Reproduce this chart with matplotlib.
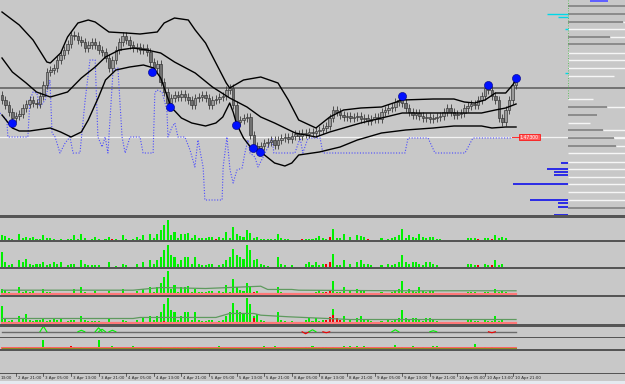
import matplotlib
matplotlib.use("Agg")
import matplotlib.pyplot as plt
import numpy as np
from matplotlib.patches import Rectangle

#--------------------------------
# DATA (H1 bars, EURUSD-like price)
#--------------------------------
first_open = 1.4772
closes = [1.4767, 1.4762, 1.4755, 1.4749, 1.4751, 1.4753, 1.4759, 1.4763, 1.4767, 1.4764,
          1.4763, 1.4771, 1.4782, 1.4795, 1.4797, 1.4799, 1.4807, 1.4812, 1.4817, 1.4823,
          1.4832, 1.4831, 1.4827, 1.4825, 1.4819, 1.4822, 1.4825, 1.4822, 1.4817, 1.4815,
          1.4809, 1.4799, 1.4807, 1.4817, 1.4825, 1.4831, 1.4827, 1.4822, 1.4819, 1.4820,
          1.4817, 1.4819, 1.4815, 1.4805, 1.4799, 1.4803, 1.4785, 1.4775, 1.4764, 1.4769,
          1.4772, 1.4770, 1.4773, 1.4770, 1.4767, 1.4762, 1.4769, 1.4770, 1.4772, 1.4769,
          1.4762, 1.4767, 1.4768, 1.4770, 1.4771, 1.4777, 1.4779, 1.4762, 1.4745, 1.4747,
          1.4749, 1.4750, 1.4732, 1.4721, 1.4719, 1.4721, 1.4724, 1.4725, 1.4727, 1.4722,
          1.4727, 1.4729, 1.4730, 1.4728, 1.4731, 1.4733, 1.4731, 1.4734, 1.4733, 1.4735,
          1.4734, 1.4736, 1.4737, 1.4739, 1.4741, 1.4749, 1.4757, 1.4755, 1.4752, 1.4750,
          1.4751, 1.4749, 1.4750, 1.4751, 1.4748, 1.4749, 1.4746, 1.4748, 1.4750, 1.4748,
          1.4755, 1.4757, 1.4759, 1.4760, 1.4765, 1.4767, 1.4764, 1.4759, 1.4755, 1.4752,
          1.4754, 1.4751, 1.4749, 1.4750, 1.4748, 1.4749, 1.4750, 1.4751, 1.4755, 1.4759,
          1.4755, 1.4752, 1.4753, 1.4754, 1.4759, 1.4761, 1.4763, 1.4762, 1.4767, 1.4771,
          1.4779, 1.4777, 1.4771, 1.4767, 1.4749, 1.4745, 1.4757, 1.4767, 1.4782, 1.4785]

# bollinger bands (bar index, price)
upper_bars = [0, 5, 9, 13, 14, 17, 19, 22, 25, 27, 31, 36, 40, 45, 47, 50, 54, 56, 59, 62,
              65, 66, 70, 75, 80, 83, 86, 91, 95, 99, 104, 110, 116, 125, 131, 134, 137,
              140, 143, 146, 148, 149]
upper_vals = [1.4855, 1.4842, 1.4827, 1.4805, 1.4804, 1.4814, 1.4830, 1.4844, 1.4847, 1.4845,
              1.4835, 1.4834, 1.4833, 1.4835, 1.4844, 1.4849, 1.4847, 1.4837, 1.4824, 1.4804,
              1.4784, 1.4779, 1.4787, 1.4790, 1.4784, 1.4767, 1.4747, 1.4739, 1.4750, 1.4757,
              1.4759, 1.4760, 1.4767, 1.4768, 1.4768, 1.4765, 1.4764, 1.4767, 1.4774, 1.4774,
              1.4782, 1.4787]
mid_bars = [0, 3, 7, 10, 14, 19, 23, 27, 30, 34, 38, 42, 46, 50, 56, 61, 66, 71, 75, 79,
            85, 91, 95, 104, 110, 116, 123, 129, 139, 143, 146, 149]
mid_vals = [1.4809, 1.4795, 1.4784, 1.4775, 1.4770, 1.4775, 1.4789, 1.4800, 1.4810, 1.4817,
            1.4819, 1.4817, 1.4814, 1.4805, 1.4794, 1.4780, 1.4769, 1.4760, 1.4750, 1.4744,
            1.4734, 1.4730, 1.4735, 1.4744, 1.4749, 1.4754, 1.4754, 1.4754, 1.4754, 1.4757,
            1.4759, 1.4763]
lower_bars = [0, 3, 5, 8, 14, 17, 20, 23, 25, 28, 30, 33, 37, 41, 44, 46, 49, 52, 55, 59,
              62, 64, 66, 67, 68, 70, 72, 75, 79, 82, 84, 86, 92, 98, 103, 110, 117, 125,
              131, 139, 142, 146, 149]
lower_vals = [1.4752, 1.4739, 1.4736, 1.4736, 1.4739, 1.4735, 1.4730, 1.4735, 1.4747, 1.4770,
              1.4787, 1.4797, 1.4800, 1.4802, 1.4799, 1.4789, 1.4760, 1.4749, 1.4744, 1.4741,
              1.4744, 1.4750, 1.4764, 1.4755, 1.4743, 1.4729, 1.4720, 1.4715, 1.4704, 1.4701,
              1.4704, 1.4712, 1.4715, 1.4720, 1.4727, 1.4734, 1.4737, 1.4739, 1.4741, 1.4741,
              1.4739, 1.4740, 1.4740]

# dotted blue oscillator drawn in the price window
osc_x = [-0.6, 1.4, 1.7, 7.5, 8.1, 9.0, 10.1, 11.0, 12.5, 13.9, 14.5, 15.4, 16.8, 18.3, 19.7,
         20.6, 22.6, 24.1, 25.5, 27.0, 27.8, 29.0, 29.9, 30.7, 32.2, 33.6, 34.8, 35.7, 37.1,
         40.0, 40.9, 43.8, 44.3, 44.9, 46.4, 47.8, 48.1, 49.3, 50.1, 51.0, 53.0, 54.5, 55.9,
         56.8, 58.3, 58.8, 63.8, 64.1, 65.2, 66.1, 67.0, 68.1, 69.6, 70.4, 71.3, 71.9, 73.3,
         74.2, 75.7, 77.1, 78.3, 78.8, 79.7, 84.9, 86.4, 87.2, 88.7, 92.2, 93.0, 116.8, 117.7,
         123.5, 125.5, 134.2, 136.5, 147.8]
osc_y = [1.4754, 1.4747, 1.4730, 1.4730, 1.4767, 1.4775, 1.4774, 1.4760, 1.4767, 1.4787,
         1.4734, 1.4730, 1.4714, 1.4724, 1.4730, 1.4714, 1.4714, 1.4767, 1.4807, 1.4807,
         1.4730, 1.4720, 1.4730, 1.4714, 1.4797, 1.4799, 1.4730, 1.4714, 1.4730, 1.4730,
         1.4714, 1.4714, 1.4774, 1.4777, 1.4775, 1.4757, 1.4730, 1.4740, 1.4744, 1.4730,
         1.4730, 1.4717, 1.4700, 1.4727, 1.4700, 1.4667, 1.4667, 1.4700, 1.4730, 1.4697,
         1.4684, 1.4697, 1.4699, 1.4714, 1.4727, 1.4714, 1.4710, 1.4700, 1.4710, 1.4720,
         1.4729, 1.4714, 1.4714, 1.4714, 1.4729, 1.4714, 1.4729, 1.4729, 1.4714, 1.4714,
         1.4729, 1.4729, 1.4714, 1.4714, 1.4729, 1.4729]

signal_bars = [3, 43.5, 48.7, 67.8, 72.8, 74.8, 115.9, 140.9, 149]
signal_vals = [1.4744, 1.4795, 1.4760, 1.4742, 1.4719, 1.4715, 1.4771, 1.4782, 1.4789]

level_gray = 1.4779
level_white = 1.4730

# right side profile: price level, gray share, white end (share of width)
prof_y = [1.4861, 1.4853, 1.4845, 1.4838, 1.4830, 1.4823, 1.4814, 1.4807, 1.4799, 1.4791,
          1.4768, 1.4760, 1.4752, 1.4744, 1.4737, 1.4729, 1.4721, 1.4714, 1.4705, 1.4698,
          1.4690, 1.4683, 1.4675, 1.4667, 1.4659]
prof_gray = [1.0, 1.0, 0.97, 0.0, 0.74, 1.0, 0.0, 0.0, 0.0, 0.0, 0.0, 0.68, 0.5, 0.0, 0.62,
             0.8, 0.85, 0.0, 0.0, 0.0, 0.0, 0.0, 0.0, 0.0, 1.0]
prof_white = [1.0, 1.0, 1.0, 1.0, 1.0, 1.0, 1.0, 1.0, 1.0, 0.8, 0.44, 1.0, 0.5, 0.38, 1.0,
              1.0, 1.0, 1.0, 1.0, 1.0, 1.0, 1.0, 1.0, 1.0, 1.0]
blue_y = [1.4704, 1.4698, 1.4695, 1.4692, 1.4683, 1.4667, 1.4664, 1.4660, 1.4652]
blue_len = [7, 21, 14, 14, 55, 38, 10, 10, 14]
cyan_y = [1.4853, 1.4850, 1.4838, 1.4794]
cyan_len = [21, 10, 3, 3]

# volume panels
vol1 = [5, 4, 2, 1, 0, 6, 2, 3, 2, 3, 1, 1, 5, 2, 2, 1, 0, 1, 0, 1,
        1, 5, 1, 6, 2, 0, 1, 3, 1, 0, 1, 3, 1, 1, 0, 5, 1, 0, 1, 3,
        1, 5, 0, 6, 2, 6, 10, 15, 20, 5, 8, 2, 6, 6, 7, 2, 5, 2, 2, 2,
        3, 3, 1, 3, 2, 8, 2, 13, 6, 4, 3, 10, 7, 2, 3, 1, 1, 1, 1, 1,
        6, 2, 1, 1, 0, 0, 0, 1, 1, 1, 1, 2, 4, 2, 1, 3, 11, 2, 2, 6,
        0, 3, 0, 5, 4, 3, 1, 0, 0, 0, 2, 0, 1, 2, 3, 5, 11, 2, 5, 3,
        2, 6, 3, 2, 3, 3, 1, 1, 0, 0, 0, 0, 0, 0, 0, 2, 2, 2, 1, 0,
        2, 2, 1, 5, 2, 3, 2, 0, 0, 0]
vol2 = [15, 5, 2, 3, 0, 7, 5, 8, 3, 2, 3, 3, 5, 2, 3, 5, 3, 5, 0, 2,
        3, 3, 0, 7, 3, 2, 2, 2, 2, 0, 0, 5, 0, 1, 0, 3, 2, 0, 0, 3,
        0, 5, 0, 7, 3, 7, 10, 17, 22, 12, 10, 3, 7, 10, 10, 3, 10, 3, 2, 2,
        3, 3, 0, 2, 3, 7, 10, 18, 12, 10, 8, 22, 17, 7, 8, 3, 2, 1, 0, 0,
        10, 3, 2, 0, 2, 0, 0, 0, 3, 5, 2, 5, 2, 3, 3, 5, 13, 2, 2, 7,
        0, 3, 0, 5, 7, 3, 3, 2, 0, 0, 2, 0, 3, 2, 3, 5, 12, 5, 3, 5,
        5, 3, 2, 5, 5, 3, 2, 0, 0, 0, 0, 0, 0, 0, 0, 3, 3, 2, 2, 0,
        3, 2, 2, 7, 2, 3, 0, 0, 0, 0]
red1 = [32, 62, 87, 95, 106, 138, 142]
red2 = [94, 95, 138, 142]

p3_red_bars = [32, 39, 68, 73, 80, 88, 94, 95, 98, 106, 138, 142]
p3_red_vals = [1, 1, 1.5, 2.5, 1, 1, 2, 3, 1.5, 1, 1, 1]
p3_ma_bars = [0, 38, 46, 59, 75, 77, 84, 86, 115, 149]
p3_ma_vals = [3.6, 3.6, 5.8, 5.0, 6.9, 4.2, 4.2, 3.6, 3.1, 3.1]

p4_red_bars = [18, 19, 32, 35, 43, 47, 52, 61, 69, 73, 81, 88, 94, 95, 96, 97, 98, 101, 106, 140, 142]
p4_red_vals = [1.5, 1.5, 1.5, 1.5, 1.5, 2.5, 1.5, 1.5, 1.5, 4.4, 1.5, 1.5, 3, 5.8, 7.3, 4.4, 3,
               1.5, 1.5, 1.5, 1.5]
p4_ma_bars = [0, 38, 40, 62, 66, 73, 75, 83, 101, 149]
p4_ma_vals = [4.4, 4.4, 5.3, 5.3, 8.8, 8.8, 7.3, 5.9, 3.5, 3.5]

p5_bars = [12, 23, 28, 29, 32, 88, 90, 94, 114, 125, 142]
p5_vals = [5.5, 1.5, 4, 2.5, 1.5, -2, 2, -1, 2, 1, -1]

p6_bars = [0, 3, 5, 7, 9, 10, 12, 14, 16, 19, 20, 21, 23, 27, 28, 30, 32, 33, 38, 46,
           50, 51, 52, 54, 57, 63, 69, 71, 76, 79, 80, 83, 84, 88, 89, 90, 91, 92, 93, 94,
           96, 99, 101, 103, 105, 106, 110, 112, 114, 115, 116, 119, 122, 125, 126, 128,
           137, 139, 140, 142, 143, 145]
p6_vals = [1, 1, 2, 2, 1, 1, 9, 2, 1, 1, 3, 2, 2, 1, 9, 1, 3, 1, 3, 2,
           2, 2, 1, 2, 2, 3, 1, 1, 3, 3, 1, 2, 1, 2, 2, 3, 2, 2, 2, 2,
           2, 3, 3, 3, 3, 2, 1, 1, 4, 2, 2, 3, 2, 3, 3, 1, 5, 1, 2, 2, 1, 1]
p6_red = [19, 20, 21, 88, 93, 142]

# first label is cut by the window edge, only its time part shows
time_labels = ["13:00", "2 Apr 21:00", "3 Apr 05:00", "3 Apr 13:00", "3 Apr 21:00",
               "4 Apr 05:00", "4 Apr 13:00", "4 Apr 21:00", "5 Apr 05:00", "5 Apr 13:00",
               "5 Apr 21:00", "8 Apr 05:00", "8 Apr 13:00", "8 Apr 21:00", "9 Apr 05:00",
               "9 Apr 13:00", "9 Apr 21:00", "10 Apr 05:00", "10 Apr 13:00", "10 Apr 21:00"]

#--------------------------------
# FIGURE / LAYOUT
#--------------------------------
W, H = 625, 384
BG = "#c8c8c8"
GREEN = "#00f000"
RED = "#f00000"
XL = (-2 / 3.45, 623 / 3.45)   # bar index range across the figure width

fig = plt.figure(figsize=(W / 100, H / 100), dpi=100, facecolor=BG)


def px_axes(x0, y0, x1, y1, z=2):
    a = fig.add_axes([x0 / W, 1 - y1 / H, (x1 - x0) / W, (y1 - y0) / H], zorder=z)
    a.set_facecolor("none")
    a.axis("off")
    return a


bg = px_axes(0, 0, W, H, z=0)
bg.set_xlim(0, W)
bg.set_ylim(H, 0)
for y0, y1 in [(215, 217.5), (239.5, 242), (266.5, 269), (294.5, 297), (323.5, 326.5),
               (336.5, 338), (349, 351), (372.5, 374)]:
    bg.add_patch(Rectangle((0, y0), W, y1 - y0, color="#555555", lw=0))
bg.add_patch(Rectangle((0, 381), W, 3, color="#e4eaf0", lw=0))

#--------------------------------
# MAIN PRICE WINDOW
#--------------------------------
ax = px_axes(0, 0, W, 215)
ax.set_xlim(*XL)
ax.set_ylim(1.4652, 1.4867)

ax.axhline(level_gray, color="#6c6c6c", lw=1.3, zorder=1)
ax.axhline(level_white, color="#f4f4f4", lw=0.9, zorder=1)

c = np.array(closes)
o = np.array([first_open] + closes[:-1])
idx = np.arange(len(c))
lo = np.minimum(o, c)
hi = np.maximum(o, c)
ax.vlines(idx, lo - 0.0004, hi + 0.0004, color="#3a3a3a", lw=0.6, zorder=3)
body = np.maximum(hi - lo, 0.0001)
up = c >= o
ax.bar(idx[up], body[up], bottom=lo[up], width=0.75, color="#9a9a9a",
       edgecolor="#303030", lw=0.45, zorder=4)
ax.bar(idx[~up], body[~up], bottom=lo[~up], width=0.75, color="#707070",
       edgecolor="#303030", lw=0.45, zorder=4)

for bx, by in [(upper_bars, upper_vals), (mid_bars, mid_vals), (lower_bars, lower_vals)]:
    ax.plot(bx, by, color="black", lw=1.0, zorder=5)

ax.plot(osc_x, osc_y, color="#4a4aff", lw=0.8, ls=(0, (1, 1.5)), zorder=2)
ax.scatter(signal_bars, signal_vals, s=34, color="#0010ff", edgecolor="#000080",
           lw=0.4, zorder=6)

ax.plot([147.8, 149.8], [level_white] * 2, color="#ff3030", lw=0.8, zorder=6)
ax.text(150.1, level_white, "1.47300", fontsize=3.3, color="white", va="center", ha="left",
        zorder=7, bbox=dict(boxstyle="square,pad=0.2", fc="#ff5a5a", ec="#ff0000", lw=0.5))

# right side profile
pf = px_axes(500, 0, W, 215, z=3)
pf.set_xlim(-68, 57)
pf.set_ylim(1.4652, 1.4867)
for y, g, wend in zip(prof_y, prof_gray, prof_white):
    if g > 0:
        pf.plot([0, g * 57], [y, y], color="#7a7a7a", lw=1.1, solid_capstyle="butt")
    if wend > g:
        pf.plot([g * 57, wend * 57], [y, y], color="#f6f6f6", lw=1.0, solid_capstyle="butt")
for y, ln in zip(blue_y, blue_len):
    pf.plot([-ln, 0], [y, y], color="#0000ee", lw=1.1, solid_capstyle="butt")
for y, ln in zip(cyan_y, cyan_len):
    pf.plot([-ln, 0], [y, y], color="#00d8e8", lw=1.0, solid_capstyle="butt")
pf.plot([0, 0], [1.4867, 1.4767], color="#40c040", lw=0.6, ls=(0, (1, 2)))
pf.add_patch(Rectangle((22, 1.4865), 18, 0.0003, color="#6060ff", lw=0))

#--------------------------------
# INDICATOR PANELS
#--------------------------------


def vol_panel(y0, y1, top, vals, reds):
    a = px_axes(0, y0, W, y1)
    a.set_xlim(*XL)
    a.set_ylim(0, top)
    v = np.array(vals)
    cols = [RED if i in reds else GREEN for i in range(len(v))]
    a.bar(np.arange(len(v)), v, width=0.6, color=cols, lw=0)
    return a


p1 = vol_panel(217, 239.5, 22.5, vol1, red1)
p2 = vol_panel(243, 266.5, 23.5, vol2, red2)

p3 = vol_panel(269, 294.5, 25.5 / 1.2, vol1, [])
p3.bar(p3_red_bars, p3_red_vals, width=0.6, color=RED, lw=0)
p3.plot([0, 149], [0.3, 0.3], color="#ff7878", lw=1.6)
p3.plot(p3_ma_bars, p3_ma_vals, color="#5f9a5f", lw=0.9)

p4 = vol_panel(298, 323.5, 25.5 / 1.14, vol2, [])
p4.bar(p4_red_bars, p4_red_vals, width=0.6, color=RED, lw=0)
p4.plot([0, 149], [0.3, 0.3], color="#ff7878", lw=1.6)
p4.plot(p4_ma_bars, p4_ma_vals, color="#5f9a5f", lw=0.9)

p5 = px_axes(0, 327, W, 336.5)
p5.set_xlim(*XL)
p5.set_ylim(-4.75, 4.75)
p5.plot([0, 149], [-0.3, -0.3], color="#6a6a6a", lw=1.0)
for b, v in zip(p5_bars, p5_vals):
    p5.plot([b - 1, b, b + 1], [0, v, 0], color=GREEN if v > 0 else RED, lw=0.8)

p6 = px_axes(0, 339, W, 348.5)
p6.set_xlim(*XL)
p6.set_ylim(0, 9.5)
p6.plot([0, 149], [0.3, 0.3], color="#ff6060", lw=1.4)
p6.plot([0, 149], [0.6, 0.6], color="#8a8a20", lw=0.7)
p6.bar(p6_bars, p6_vals, width=0.6, lw=0,
       color=[RED if b in p6_red else GREEN for b in p6_bars])

#--------------------------------
# TIME AXIS
#--------------------------------
ta = px_axes(0, 373, W, 381)
ta.set_xlim(*XL)
ta.set_ylim(8, 0)
for k, lab in enumerate(time_labels):
    b = -4 + 8 * k
    if k == 0:
        ta.text(-0.3, 4.6, lab, fontsize=2.9, ha="left", va="center", color="#222222")
        continue
    ta.plot([b, b], [0, 3], color="#333333", lw=0.5)
    ta.text(b + 0.6, 4.6, lab, fontsize=2.9, ha="left", va="center", color="#222222")

fig.savefig("out.png", dpi=100, facecolor=BG)
